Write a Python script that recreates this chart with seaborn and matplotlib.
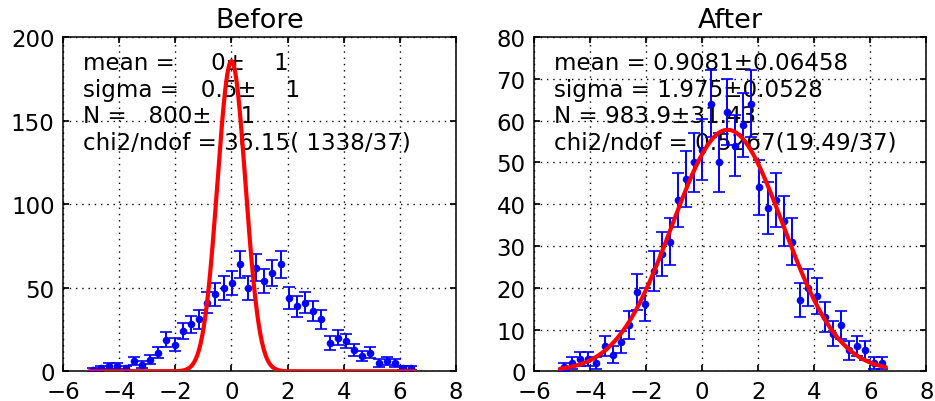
import numpy as np
import pandas as pd
import matplotlib
matplotlib.use("Agg")
import matplotlib.pyplot as plt
import seaborn as sns

# ---- data ----
bin_lo, bin_hi, n_bins = -5.08, 6.55, 40
counts = [1, 2, 3, 3, 2, 6, 4, 7, 11, 19,
          16, 24, 28, 31, 41, 46, 50, 53, 64, 50,
          62, 54, 59, 64, 44, 39, 41, 36, 31, 17,
          20, 18, 13, 9, 11, 5, 6, 5, 2, 2]

before_fit = dict(mean=0.0, sigma=0.5, N=800.0)
after_fit = dict(mean=0.9081, sigma=1.975, N=983.9)

before_text = ["mean =     0\u00b1    1",
               "sigma =   0.5\u00b1    1",
               "N =   800\u00b1    1",
               "chi2/ndof = 36.15( 1338/37)"]
after_text = ["mean = 0.9081\u00b10.06458",
              "sigma = 1.975\u00b10.0528",
              "N = 983.9\u00b131.43",
              "chi2/ndof = 0.5267(19.49/37)"]

titles = ["Before", "After"]
xticks = [-6, -4, -2, 0, 2, 4, 6, 8]
yticks_before = [0, 50, 100, 150, 200]
yticks_after = [0, 10, 20, 30, 40, 50, 60, 70, 80]

# ---- derived ----
edges = np.linspace(bin_lo, bin_hi, n_bins + 1)
width = edges[1] - edges[0]
centers = 0.5 * (edges[:-1] + edges[1:])
df = pd.DataFrame({"x": centers, "n": counts})
df["err"] = np.sqrt(df["n"])

def gauss(x, mean, sigma, N):
    return N * width / (np.sqrt(2 * np.pi) * sigma) * np.exp(-0.5 * ((x - mean) / sigma) ** 2)

xs = np.linspace(bin_lo, bin_hi, 600)

sns.set_theme(style="white")
plt.rcParams.update({
    "font.family": ["DejaVu Sans"],
    "axes.edgecolor": "black",
    "axes.linewidth": 1.1,
    "xtick.direction": "in",
    "ytick.direction": "in",
    "xtick.top": True,
    "ytick.right": True,
    "xtick.bottom": True,
    "ytick.left": True,
    "xtick.major.size": 4,
    "ytick.major.size": 4,
    "xtick.color": "black",
    "ytick.color": "black",
    "xtick.labelsize": 16.5,
    "ytick.labelsize": 16.5,
    "text.color": "black",
})

fig = plt.figure(figsize=(9.35, 4.02), dpi=100)
ax1 = fig.add_axes([0.0674, 0.0739, 0.4203, 0.8316])
ax2 = fig.add_axes([0.5711, 0.0739, 0.4198, 0.8316])

for ax, fit, txt, title, yt in [(ax1, before_fit, before_text, titles[0], yticks_before),
                                 (ax2, after_fit, after_text, titles[1], yticks_after)]:
    ax.grid(True, color="black", linestyle=(0, (1, 3.5)), linewidth=1.0)
    ax.set_axisbelow(True)
    ax.errorbar(df["x"], df["n"], yerr=df["err"], fmt="none", ecolor="blue",
                elinewidth=1.4, capsize=4.5, capthick=1.2, zorder=3)
    sns.scatterplot(data=df, x="x", y="n", ax=ax, color="blue", s=30,
                    edgecolor="blue", linewidth=0, zorder=4)
    sns.lineplot(x=xs, y=gauss(xs, **fit), ax=ax, color="red", linewidth=3,
                 zorder=5)
    ax.set_xlim(-6, 8)
    ax.set_ylim(yt[0], yt[-1])
    ax.set_xticks(xticks)
    ax.set_yticks(yt)
    ax.set_xlabel("")
    ax.set_ylabel("")
    ax.set_title(title, fontsize=19.5, pad=7)
    ax.text(0.051, 0.957, "\n".join(txt), transform=ax.transAxes,
            ha="left", va="top", fontsize=16.6, linespacing=1.19, zorder=2)
    for s in ax.spines.values():
        s.set_visible(True)
        s.set_color("black")
    ax.tick_params(axis="both", which="major", pad=6)

fig.savefig("out.png", dpi=100)
